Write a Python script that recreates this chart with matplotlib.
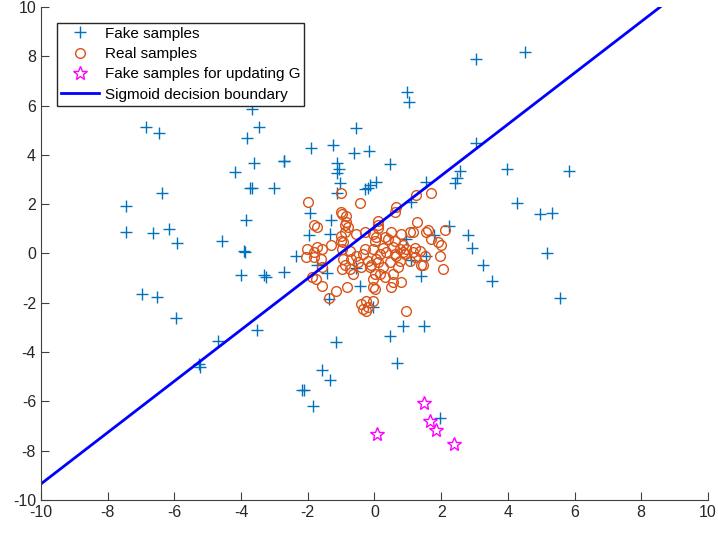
import numpy as np
import matplotlib
matplotlib.use("Agg")
import matplotlib.pyplot as plt

plt.rcParams['font.family'] = ['Liberation Sans', 'DejaVu Sans']
plt.rcParams['axes.unicode_minus'] = False

# fake samples (+)
fake_x = [-7.46, -7.46, -6.84, -6.45, -6.36, -6.63, -6.15, -5.91, -4.57, -4.18,
          -3.82, -3.46, -3.67, -3.61, -3.72, -3.68, -3.0, -2.72, -2.70, -3.85,
          -3.9, -3.88, -2.36, -4.0, -3.31, -3.25, -2.72, -6.96, -6.51, -5.94,
          -3.52, -4.69, -5.25, -5.22, -1.16, -1.58, -1.34, -2.18, -2.12, -1.85,
          -1.43, -1.37, 3.25, 3.52, 5.55, 1.4, -0.42, -0.03, 0.87, 1.49,
          0.48, 0.69, 1.97, 3.04, 4.5, 0.99, 1.04, 3.04, 0.47, 3.97,
          5.82, 2.57, 2.48, 2.42, 1.55, 0.05, 1.1, 4.27, 4.96, 5.31,
          -0.54, -0.15, -0.6, -0.27, -0.12, 2.24, 2.8, 2.93, 5.16, 1.79,
          1.55, 0.96, 1.1, -1.91, -1.25, -1.13, -1.07, -1.04, -1.13, -1.94,
          -1.31, -1.34, -1.97, -1.73, -0.54, -1.13, -0.18]
fake_y = [1.94, 0.88, 5.14, 4.9, 2.47, 0.81, 1.0, 0.41, 0.49, 3.32,
          4.7, 5.14, 5.85, 3.68, 2.67, 2.67, 2.67, 3.77, 3.75, 1.34,
          0.1, 0.05, -0.12, -0.89, -0.89, -0.97, -0.77, -1.66, -1.78, -2.63,
          -3.12, -3.56, -4.5, -4.6, -3.6, -4.74, -5.14, -5.55, -5.55, -6.2,
          -0.8, -1.84, -0.45, -1.13, -1.82, -0.93, -1.32, -2.19, -2.96, -2.96,
          -3.33, -4.45, -6.68, 7.89, 8.18, 6.56, 6.15, 4.49, 3.62, 3.44,
          3.36, 3.36, 3.07, 2.87, 2.91, 2.9, 2.1, 2.06, 1.62, 1.66,
          5.1, 4.17, 4.09, 2.63, 2.79, 1.11, 0.75, 0.22, 0.0, 0.73,
          -0.1, 0.6, -0.26, 4.29, 4.41, 3.68, 3.44, 2.87, 2.47, 1.66,
          1.34, 0.77, 0.75, -0.45, -0.6, 3.28, 2.67]

# real samples (o)
real_x = [-2.0, -1.01, -0.42, -1.01, -0.98, -0.84, -1.82, -1.73, -0.84, -0.87,
          -0.78, -0.87, -0.54, -0.27, 0.12, 0.66, 0.63, 1.25, 1.70, 1.28,
          1.61, 2.12, 1.07, 1.16, 0.81, 0.51, -0.03, 0.06, 0.03, 0.33,
          0.42, 0.27, 0.63, 0.87, 1.70, 1.91, 2.0, 1.55, 1.97, 2.06,
          1.52, 1.40, 1.22, 1.07, 0.93, 0.66, 0.78, 0.72, 0.48, 0.18,
          0.06, -0.03, -0.27, -0.33, -0.18, -0.12, -0.39, -0.48, -0.69, -0.72,
          -0.98, -0.93, -0.87, -0.98, -0.72, -1.01, -1.01, -0.93, -1.31, -1.58,
          -1.73, -2.03, -2.06, -1.82, -1.82, -1.61, -1.58, -1.88, -1.76, -1.58,
          -1.16, -0.81, -1.37, -0.39, -0.24, -0.18, -0.24, -0.33, -0.03, 0.03,
          -0.03, 0.33, 0.57, 0.51, 0.81, 0.57, 0.96, 0.12, 0.12, 0.57,
          0.78, 0.96, 1.22, 0.36, 0.63, 0.87, 1.16, 1.37, 0.12, 0.27,
          0.18, 1.46, -0.03, -0.63, -0.09, 0.03, -0.54]
real_y = [2.1, 2.47, 2.06, 1.7, 1.58, 1.5, 1.17, 1.09, 1.26, 1.17,
          1.09, 0.85, 0.8, 0.89, 1.3, 1.9, 1.7, 2.39, 2.47, 1.26,
          0.97, 0.97, 0.89, 0.85, 0.77, 0.89, 0.77, 0.65, 0.49, 0.65,
          0.57, 0.24, 0.49, 0.36, 0.57, 0.45, 0.36, 0.89, -0.12, -0.65,
          -0.12, -0.45, -0.16, -0.32, -0.04, -0.12, -0.32, -0.53, -0.36, -0.04,
          -0.24, 0.16, 0.16, -0.04, -0.32, -0.57, -0.53, -0.36, -0.24, 0.08,
          0.16, -0.24, -0.45, -0.65, -0.65, 0.69, 0.49, 0.45, 0.36, 0.16,
          0.28, 0.16, -0.16, -0.16, 0.04, -0.24, -0.53, -0.97, -1.05, -1.34,
          -1.54, -1.38, -1.82, -2.06, -1.94, -2.19, -2.35, -2.27, -1.38, -1.46,
          -1.05, -0.97, -1.17, -1.38, -1.17, -0.85, -2.35, 1.17, 1.05, 0.28,
          0.16, 0.16, 0.24, 0.04, -0.04, 0.04, 0.04, 0.08, -0.36, -0.57,
          -0.85, -0.45, -1.94, -0.85, -0.45, -0.85, -0.12]

# fake samples chosen for updating G (stars)
upd_x = [0.09, 1.49, 1.67, 1.85, 2.39]
upd_y = [-7.33, -6.07, -6.8, -7.17, -7.73]

# sigmoid decision boundary end points
bound_x = [-10.0, 8.57]
bound_y = [-9.35, 10.0]

fig = plt.figure(figsize=(7.18, 5.33), dpi=100)
ax = fig.add_axes([0.057, 0.062, 0.929, 0.925])

ax.plot(fake_x, fake_y, '+', color='#0072BD', ms=8, mew=1.0, label='Fake samples')
ax.plot(real_x, real_y, 'o', mfc='none', mec='#D95319', ms=7, mew=1.0, label='Real samples')
ax.plot(upd_x, upd_y, '*', mfc='none', mec='#FF00FF', ms=10, mew=1.0,
        label='Fake samples for updating G')
ax.plot(bound_x, bound_y, '-', color='#0000FF', lw=2.0, label='Sigmoid decision boundary')

ax.set_xlim(-10, 10)
ax.set_ylim(-10, 10)
ax.set_xticks(np.arange(-10, 11, 2))
ax.set_yticks(np.arange(-10, 11, 2))
for s in ['top', 'right']:
    ax.spines[s].set_visible(False)
for s in ['left', 'bottom']:
    ax.spines[s].set_color('#404040')
ax.tick_params(direction='in', length=6, colors='#404040', labelcolor='#262626',
               labelsize=11.5)

leg = ax.legend(loc='upper left', bbox_to_anchor=(0.024, 0.968), fontsize=11,
                fancybox=False, framealpha=1, edgecolor='#262626',
                borderpad=0.25, labelspacing=0.42, handlelength=2.5,
                handletextpad=0.4, borderaxespad=0)
leg.get_frame().set_linewidth(1.0)

fig.savefig('out.png', dpi=100)
